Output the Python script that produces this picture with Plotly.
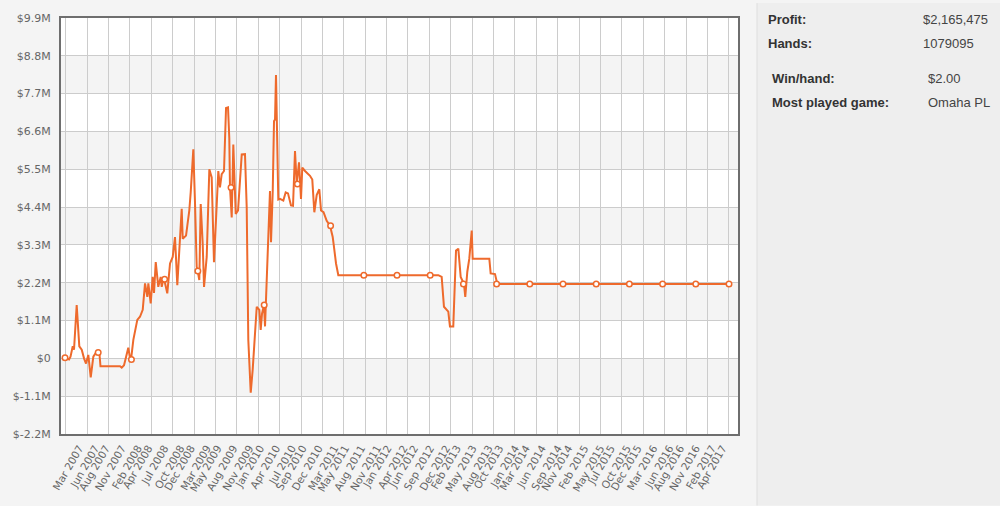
import plotly.graph_objects as go

# ---- data (decimal years, profit in $M) ----
years = [2006.944, 2007.007, 2007.030, 2007.065, 2007.085, 2007.127, 2007.168, 2007.206,
         2007.242, 2007.273, 2007.309, 2007.347, 2007.388, 2007.430, 2007.482, 2007.500,
         2007.806, 2007.833, 2007.869, 2007.936, 2007.963, 2007.979, 2008.015, 2008.077,
         2008.119, 2008.162, 2008.198, 2008.234, 2008.250, 2008.287, 2008.318, 2008.339,
         2008.366, 2008.406, 2008.444, 2008.460, 2008.485, 2008.504, 2008.547, 2008.590,
         2008.632, 2008.668, 2008.704, 2008.736, 2008.773, 2008.789, 2008.841, 2008.861,
         2008.892, 2008.914, 2008.955, 2008.982, 2009.008, 2009.024, 2009.049, 2009.071,
         2009.102, 2009.123, 2009.165, 2009.206, 2009.243, 2009.279, 2009.322, 2009.347,
         2009.373, 2009.400, 2009.436, 2009.468, 2009.499, 2009.519, 2009.530, 2009.557,
         2009.582, 2009.620, 2009.656, 2009.714, 2009.765, 2009.792, 2009.817, 2009.833,
         2009.855, 2009.886, 2009.911, 2009.949, 2009.990, 2010.011, 2010.032, 2010.063,
         2010.079, 2010.105, 2010.131, 2010.157, 2010.173, 2010.200, 2010.220, 2010.236,
         2010.251, 2010.287, 2010.314, 2010.366, 2010.403, 2010.439, 2010.486, 2010.518,
         2010.549, 2010.576, 2010.612, 2010.643, 2010.663, 2010.706, 2010.784, 2010.820,
         2010.852, 2010.889, 2010.930, 2010.957, 2010.996, 2011.046, 2011.098, 2011.140,
         2011.156, 2011.192, 2011.228, 2012.795, 2012.848, 2012.884, 2012.952, 2012.978,
         2013.030, 2013.073, 2013.109, 2013.146, 2013.198, 2013.218, 2013.250, 2013.281,
         2013.319, 2013.334, 2013.595, 2013.616, 2013.684, 2013.720, 2017.352]

profit_m = [0.02, -0.03, 0.05, 0.35, 0.25, 1.55, 0.35, 0.25,
            0.00, -0.15, 0.10, -0.55, 0.05, 0.17, 0.17, -0.23,
            -0.23, -0.27, -0.20, 0.31, 0.00, -0.03, 0.54, 1.12,
            1.21, 1.41, 2.18, 1.79, 2.18, 1.60, 2.37, 1.90,
            2.80, 2.08, 2.37, 2.08, 2.30, 2.25, 1.89, 2.76,
            2.95, 3.53, 2.13, 3.20, 4.35, 3.48, 3.57, 3.86,
            4.30, 4.83, 6.08, 4.50, 2.66, 2.54, 2.28, 4.49,
            3.34, 2.08, 2.95, 5.50, 5.26, 2.80, 4.30, 5.45,
            4.97, 5.36, 5.45, 7.28, 7.30, 6.40, 4.97, 4.10,
            6.22, 4.20, 4.30, 5.93, 5.94, 4.39, 0.54, -0.12,
            -1.00, -0.32, 0.54, 1.50, 1.41, 0.83, 1.30, 1.55,
            0.93, 2.18, 3.34, 4.87, 3.38, 4.87, 6.90, 6.95,
            8.24, 4.62, 4.64, 4.59, 4.83, 4.80, 4.45, 4.44,
            6.03, 5.07, 5.70, 4.64, 5.55, 5.45, 5.31, 5.20,
            4.25, 4.75, 4.92, 4.30, 4.25, 4.00, 3.86, 3.53,
            3.30, 2.76, 2.42, 2.42, 2.37, 1.50, 1.36, 0.93,
            0.93, 3.14, 3.19, 2.37, 2.16, 1.79, 2.52, 2.90,
            3.72, 2.90, 2.90, 2.47, 2.45, 2.165, 2.165]

marker_years = [2006.944, 2007.464, 2007.985, 2008.505, 2009.026, 2009.546, 2010.066,
                2010.587, 2011.107, 2011.628, 2012.148, 2012.668, 2013.189, 2013.709,
                2014.229, 2014.750, 2015.270, 2015.790, 2016.311, 2016.831, 2017.352]
marker_profit_m = [0.02, 0.17, -0.03, 2.30, 2.54, 4.97, 1.55,
                   5.07, 3.86, 2.42, 2.42, 2.42, 2.16, 2.165,
                   2.165, 2.165, 2.165, 2.165, 2.165, 2.165, 2.165]

x_labels = ["Mar 2007", "Jun 2007", "Aug 2007", "Nov 2007", "Feb 2008", "Apr 2008", "Jul 2008",
            "Oct 2008", "Dec 2008", "Mar 2009", "May 2009", "Aug 2009", "Nov 2009", "Jan 2010",
            "Apr 2010", "Jul 2010", "Sep 2010", "Dec 2010", "Mar 2011", "May 2011", "Aug 2011",
            "Nov 2011", "Jan 2012", "Apr 2012", "Jun 2012", "Sep 2012", "Dec 2012", "Feb 2013",
            "May 2013", "Aug 2013", "Oct 2013", "Jan 2014", "Mar 2014", "Jun 2014", "Sep 2014",
            "Nov 2014", "Feb 2015", "May 2015", "Jul 2015", "Oct 2015", "Dec 2015", "Mar 2016",
            "Jun 2016", "Aug 2016", "Nov 2016", "Feb 2017", "Apr 2017"]

y_ticks = [-2.2, -1.1, 0.0, 1.1, 2.2, 3.3, 4.4, 5.5, 6.6, 7.7, 8.8, 9.9]

stats_labels = ["Profit:", "Hands:", "Win/hand:", "Most played game:"]
stats_values = ["$2,165,475", "1079095", "$2.00", "Omaha PL"]

# ---- derived tick positions ----
MONTHS = ["Jan", "Feb", "Mar", "Apr", "May", "Jun", "Jul", "Aug", "Sep", "Oct", "Nov", "Dec"]
x_tickvals = [int(s.split()[1]) + MONTHS.index(s.split()[0]) / 12 for s in x_labels]


def money(v):
    if abs(v) < 1e-9:
        return "$0"
    return "$%.1fM" % v


y_ticktext = [money(v) for v in y_ticks]

LINE = "#ee6a2c"

fig = go.Figure()
fig.add_trace(go.Scatter(x=years, y=profit_m, mode="lines",
                         line=dict(color=LINE, width=2), hoverinfo="skip"))
fig.add_trace(go.Scatter(x=marker_years, y=marker_profit_m, mode="markers",
                         marker=dict(size=5.5, color="white",
                                     line=dict(color=LINE, width=1.5)),
                         hoverinfo="skip"))

# alternate bands
shapes = []
for j in range(1, len(y_ticks) - 1, 2):
    shapes.append(dict(type="rect", xref="paper", yref="y", x0=0, x1=1,
                       y0=y_ticks[j], y1=y_ticks[j + 1], fillcolor="#f4f4f4",
                       line=dict(width=0), layer="below"))

W, H = 1000, 506
L, R, T, B = 61, 262, 15, 72
pw, ph = W - L - R, H - T - B


def px_x(px):
    return (px - L) / pw


def px_y(py):
    return (H - B - py) / ph


# right panel
shapes.append(dict(type="rect", xref="paper", yref="paper", x0=px_x(757), x1=px_x(1000),
                   y0=px_y(506), y1=px_y(0), fillcolor="#eeeeee",
                   line=dict(width=0), layer="below"))
shapes.append(dict(type="line", xref="paper", yref="paper", x0=px_x(757), x1=px_x(757),
                   y0=px_y(506), y1=px_y(0), line=dict(color="#dedede", width=1)))

annotations = []
label_pos = [(766, 17), (766, 41), (770, 76), (770, 100)]
value_pos = [(921, 17), (921, 41), (926, 76), (926, 100)]
for lab, val, (lx, ly), (vx, vy) in zip(stats_labels, stats_values, label_pos, value_pos):
    annotations.append(dict(text="<b>%s</b>" % lab, xref="paper", yref="paper",
                            x=px_x(lx), y=px_y(ly), xanchor="left", yanchor="middle",
                            showarrow=False,
                            font=dict(family="Liberation Sans, Arial", size=13, color="#333333")))
    annotations.append(dict(text=val, xref="paper", yref="paper",
                            x=px_x(vx), y=px_y(vy), xanchor="left", yanchor="middle",
                            showarrow=False,
                            font=dict(family="Liberation Sans, Arial", size=13, color="#444444")))

fig.update_layout(
    width=W, height=H,
    margin=dict(l=L, r=R, t=T, b=B, pad=0),
    paper_bgcolor="#f4f4f4", plot_bgcolor="white",
    showlegend=False,
    shapes=shapes, annotations=annotations,
    xaxis=dict(range=[2006.881, 2017.493], tickmode="array", tickvals=x_tickvals,
               ticktext=x_labels, tickangle=-60, showgrid=False, zeroline=False,
               ticks="", ticklabelstandoff=2,
               tickfont=dict(family="DejaVu Sans", size=10.5, color="#666666"),
               showline=True, mirror=True, linecolor="#6e6e6e", linewidth=2,
               minor=dict(tickmode="linear", tick0=2007.289, dtick=0.3354,
                          showgrid=True, gridcolor="#cccccc", gridwidth=1, ticks="")),
    yaxis=dict(range=[-2.2, 9.9], tickmode="array", tickvals=y_ticks, ticktext=y_ticktext,
               showgrid=True, gridcolor="#cccccc", gridwidth=1, zeroline=False,
               ticks="", ticklabelstandoff=6,
               tickfont=dict(family="DejaVu Sans", size=11, color="#666666"),
               showline=True, mirror=True, linecolor="#6e6e6e", linewidth=2),
)

fig.write_html("out.html", config={"displayModeBar": False},
               post_script="document.body.style.margin='0';document.body.style.padding='0';"
                           "document.body.style.overflow='hidden';")
